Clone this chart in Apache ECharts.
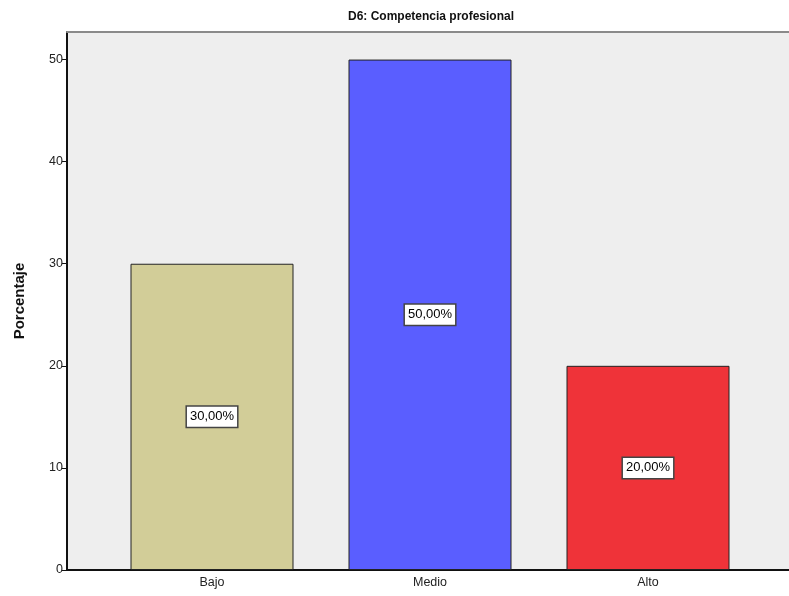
<!DOCTYPE html>
<html>
<head>
<meta charset="utf-8">
<script src="https://cdn.jsdelivr.net/npm/echarts@6/dist/echarts.min.js"></script>
<style>
  html, body { margin: 0; padding: 0; background: #fff; }
  #main { width: 789px; height: 596px; }
</style>
</head>
<body>
<div id="main"></div>
<script>
// datos del grafico
var categorias = ['Bajo', 'Medio', 'Alto'];
var porcentajes = [30, 50, 20];
var colores = ['#d2cd98', '#5a5eff', '#ef3339'];
var etiquetas = ['30,00%', '50,00%', '20,00%'];

var chart = echarts.init(document.getElementById('main'));

var barData = porcentajes.map(function (v, i) {
  return {
    value: v,
    itemStyle: { color: colores[i] },
    label: { formatter: etiquetas[i] }
  };
});

var option = {
  animation: false,
  backgroundColor: '#ffffff',
  textStyle: { fontFamily: 'Liberation Sans, Arial, sans-serif' },
  title: {
    text: 'D6: Competencia profesional',
    left: 426,
    top: 6,
    textAlign: 'center',
    textStyle: { fontSize: 12, fontWeight: 'bold', color: '#111' }
  },
  grid: [
    // zona de las barras
    { left: 103, right: 32, top: 32, bottom: 26 },
    // fondo gris del area de trazado
    { left: 67, right: 0, top: 32, bottom: 26, show: true,
      backgroundColor: '#eeeeee', borderWidth: 0, z: -1 }
  ],
  xAxis: [{
    type: 'category',
    gridIndex: 0,
    data: categorias,
    axisLine: { show: false },
    axisTick: { alignWithLabel: true, length: 6, lineStyle: { color: '#111' } },
    axisLabel: { color: '#222', fontSize: 12.5, margin: 6 }
  }, {
    // linea inferior a todo lo ancho
    type: 'value',
    gridIndex: 1,
    position: 'bottom',
    axisLine: { show: true, lineStyle: { color: '#111', width: 2 } },
    axisTick: { show: false },
    axisLabel: { show: false },
    splitLine: { show: false }
  }, {
    // borde superior gris
    type: 'value',
    gridIndex: 1,
    position: 'top',
    axisLine: { show: true, lineStyle: { color: '#8a8a8a', width: 2 } },
    axisTick: { show: false },
    axisLabel: { show: false },
    splitLine: { show: false }
  }],
  yAxis: [{
    type: 'value',
    gridIndex: 0,
    min: 0,
    max: 52.7,
    interval: 10,
    offset: 36,
    name: 'Porcentaje',
    nameLocation: 'middle',
    nameGap: 40,
    nameTextStyle: { fontSize: 15, fontWeight: 'bold', color: '#111' },
    axisLine: { show: true, lineStyle: { color: '#111', width: 2 } },
    axisTick: { show: true, length: 5, lineStyle: { color: '#111' } },
    axisLabel: { color: '#222', fontSize: 12.5, margin: 4,
      showMaxLabel: false },
    splitLine: { show: false }
  }, {
    type: 'value',
    gridIndex: 1,
    show: false
  }],
  series: [{
    type: 'bar',
    xAxisIndex: 0,
    yAxisIndex: 0,
    barWidth: 163,
    data: barData,
    itemStyle: { borderColor: '#222', borderWidth: 1 },
    label: {
      show: true,
      position: 'inside',
      color: '#000',
      fontSize: 13,
      backgroundColor: '#ffffff',
      borderColor: '#444',
      borderWidth: 1.5,
      padding: [4, 3, 3, 3]
    }
  }]
};

chart.setOption(option);
</script>
</body>
</html>
